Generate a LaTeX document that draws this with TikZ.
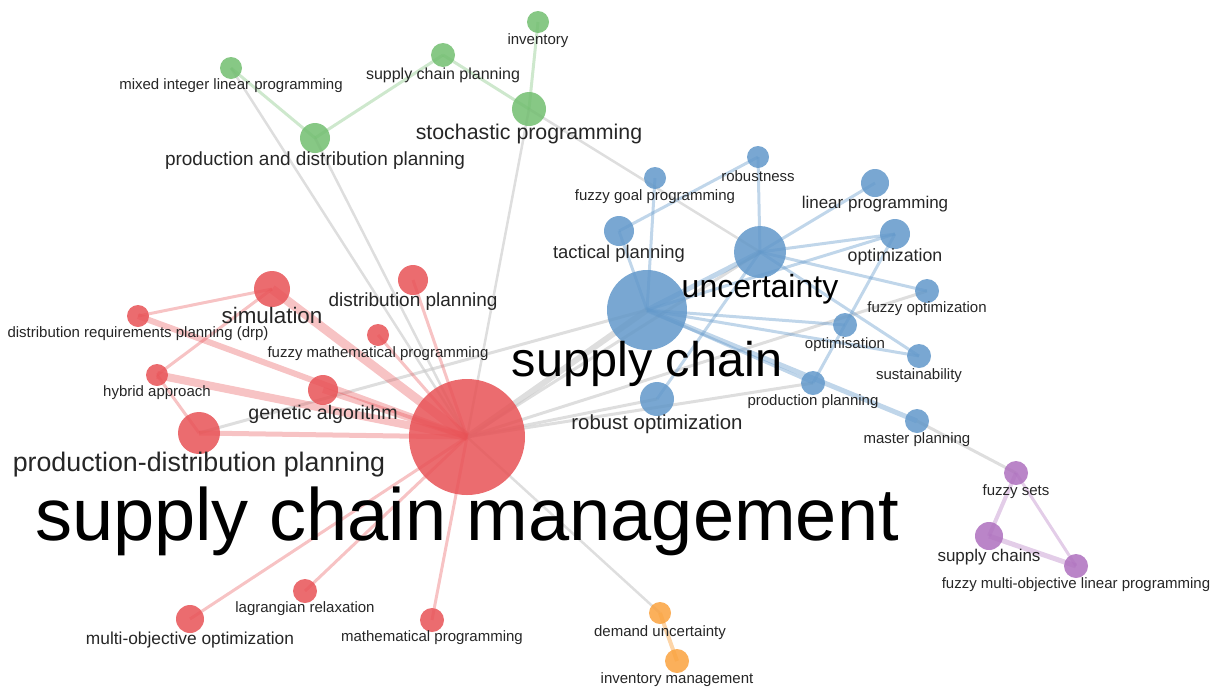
\documentclass[tikz,border=0pt]{standalone}
\usepackage{fontspec}
\setmainfont{Liberation Sans}
\usepackage{tikz}
\usetikzlibrary{backgrounds}
\definecolor{vred}{RGB}{232,82,86}
\definecolor{vblue}{RGB}{98,152,202}
\definecolor{vgreen}{RGB}{114,190,112}
\definecolor{vpurple}{RGB}{174,112,190}
\definecolor{vorange}{RGB}{250,162,62}
\definecolor{vgrey}{RGB}{200,200,200}
\tikzset{
  kw/.style={circle, inner sep=0pt, fill opacity=.85, draw=none},
  red kw/.style={kw, fill=vred, minimum size=#1*1.5pt},
  blue kw/.style={kw, fill=vblue, minimum size=#1*1.5pt},
  green kw/.style={kw, fill=vgreen, minimum size=#1*1.5pt},
  purple kw/.style={kw, fill=vpurple, minimum size=#1*1.5pt},
  orange kw/.style={kw, fill=vorange, minimum size=#1*1.5pt},
  lab/.style={text=black!85, inner sep=0pt, font=\fontsize{#1}{#1}\selectfont},
  big/.style={text=black, inner sep=0pt, font=\fontsize{#1}{#1}\selectfont},
  redge/.style={-, draw=vred, draw opacity=.35, line width=#1*0.75pt},
  bedge/.style={-, draw=vblue, draw opacity=.4, line width=#1*0.75pt},
  gedge/.style={-, draw=vgreen, draw opacity=.35, line width=#1*0.75pt},
  pedge/.style={-, draw=vpurple, draw opacity=.35, line width=#1*0.75pt},
  oedge/.style={-, draw=vorange, draw opacity=.45, line width=#1*0.75pt},
  xedge/.style={-, draw=vgrey, draw opacity=.6, line width=#1*0.75pt},
}
\begin{document}
\begin{tikzpicture}[x=0.75pt, y=-0.75pt]
            \useasboundingbox (0,0) rectangle (1218,686);
            % green cluster
            \node[green kw=11](inv)  at (538,22)  {};
            \node[green kw=11](milp) at (231,68)  {};
            \node[green kw=12](scp)  at (443,55)  {};
            \node[green kw=17](sp)   at (529,109) {};
            \node[green kw=15](pdp)  at (315,138) {};
            % blue cluster
            \node[blue kw=11](fgp)  at (655,178) {};
            \node[blue kw=11](rob)  at (758,157) {};
            \node[blue kw=14](lp)   at (875,183) {};
            \node[blue kw=15](tp)   at (619,231) {};
            \node[blue kw=26](unc)  at (760,252) {};
            \node[blue kw=15](opt)  at (895,234) {};
            \node[blue kw=40](sc)   at (647,310) {};
            \node[blue kw=12](fo)   at (927,291) {};
            \node[blue kw=12](ops)  at (845,325) {};
            \node[blue kw=12](sus)  at (919,356) {};
            \node[blue kw=12](pp)   at (813,383) {};
            \node[blue kw=17](ro)   at (657,399) {};
            \node[blue kw=12](mp)   at (917,421) {};
            % red cluster
            \node[red kw=18](sim)    at (272,289) {};
            \node[red kw=15](dp)     at (413,280) {};
            \node[red kw=11](drp)    at (138,316) {};
            \node[red kw=11](fmp)    at (378,335) {};
            \node[red kw=11](ha)     at (157,375) {};
            \node[red kw=15](ga)     at (323,390) {};
            \node[red kw=21](pdplan) at (199,433) {};
            \node[red kw=58](scm)    at (467,437) {};
            \node[red kw=12](lr)     at (305,591) {};
            \node[red kw=14](moo)    at (190,619) {};
            \node[red kw=12](mathp)  at (432,620) {};
            % orange and purple
            \node[orange kw=11](du) at (660,613) {};
            \node[orange kw=12](im) at (677,661) {};
            \node[purple kw=12](fs)    at (1016,473) {};
            \node[purple kw=14](scs)   at (989,536)  {};
            \node[purple kw=12](fmolp) at (1076,566) {};
            \begin{scope}[on background layer]
            \path
                (scm.center) edge [xedge=2.5] (milp.center)
                             edge [xedge=2.5] (pdp.center)
                             edge [xedge=2.5] (sp.center)
                             edge [xedge=6]   (sc.center)
                             edge [xedge=3]   (unc.center)
                             edge [xedge=3]   (ro.center)
                             edge [xedge=3]   (pp.center)
                             edge [xedge=3]   (fo.center)
                             edge [xedge=2.5] (du.center)
                (sp.center)  edge [xedge=2.5] (unc.center)
                (pdplan.center) edge [xedge=3] (sc.center)
                (mp.center)  edge [xedge=3]   (fs.center)
                ;
            \path
                (milp.center) edge [gedge=3] (pdp.center)
                (pdp.center)  edge [gedge=3] (scp.center)
                (scp.center)  edge [gedge=3] (sp.center)
                (sp.center)   edge [gedge=3] (inv.center)
                ;
            \path
                (scm.center) edge [redge=9] (sim.center)
                             edge [redge=3] (dp.center)
                             edge [redge=3] (fmp.center)
                             edge [redge=6] (drp.center)
                             edge [redge=8] (ha.center)
                             edge [redge=6] (ga.center)
                             edge [redge=5] (pdplan.center)
                             edge [redge=3] (lr.center)
                             edge [redge=3] (moo.center)
                             edge [redge=3] (mathp.center)
                (sim.center) edge [redge=3] (drp.center)
                             edge [redge=3] (ha.center)
                (ha.center)  edge [redge=3] (pdplan.center)
                ;
            \path
                (sc.center)  edge [bedge=5] (unc.center)
                             edge [bedge=3] (tp.center)
                             edge [bedge=3] (fgp.center)
                             edge [bedge=3] (opt.center)
                             edge [bedge=3] (ops.center)
                             edge [bedge=3] (sus.center)
                             edge [bedge=3] (pp.center)
                             edge [bedge=5] (mp.center)
                (unc.center) edge [bedge=3] (rob.center)
                             edge [bedge=3] (lp.center)
                             edge [bedge=3] (opt.center)
                             edge [bedge=3] (fo.center)
                             edge [bedge=3] (sus.center)
                             edge [bedge=3] (ro.center)
                (tp.center)  edge [bedge=3] (rob.center)
                (pp.center)  edge [bedge=3] (opt.center)
                ;
            \path
                (fs.center)  edge [pedge=4] (scs.center)
                             edge [pedge=3] (fmolp.center)
                (scs.center) edge [pedge=5] (fmolp.center)
                (du.center)  edge [oedge=4] (im.center)
                ;
            \end{scope}
            % labels
            \node[lab=11.25](inv-l)   at (538,41)  {inventory};
            \node[lab=11.25](milp-l)  at (231,86)  {mixed integer linear programming};
            \node[lab=12](scp-l)      at (443,75)  {supply chain planning};
            \node[lab=16](sp-l)       at (529,134) {stochastic programming};
            \node[lab=14.25](pdp-l)   at (315,161) {production and distribution planning};
            \node[lab=11.25](fgp-l)   at (655,197) {fuzzy goal programming};
            \node[lab=11.25](rob-l)   at (758,176) {robustness};
            \node[lab=12.75](lp-l)    at (875,204) {linear programming};
            \node[lab=13.8](tp-l)     at (619,254) {tactical planning};
            \node[big=24](unc-l)      at (760,289) {uncertainty};
            \node[lab=13.3](opt-l)    at (895,257) {optimization};
            \node[big=36.5](sc-l)     at (647,364) {supply chain};
            \node[lab=11.25](fo-l)    at (927,309) {fuzzy optimization};
            \node[lab=11.25](ops-l)   at (845,345) {optimisation};
            \node[lab=11.25](sus-l)   at (919,376) {sustainability};
            \node[lab=11.25](pp-l)    at (813,402) {production planning};
            \node[lab=15.3](ro-l)     at (657,424) {robust optimization};
            \node[lab=11.25](mp-l)    at (917,440) {master planning};
            \node[lab=16.8](sim-l)    at (272,315) {simulation};
            \node[lab=14.25](dp-l)    at (413,302) {distribution planning};
            \node[lab=11.25](drp-l)   at (138,334) {distribution requirements planning (drp)};
            \node[lab=11.25](fmp-l)   at (378,354) {fuzzy mathematical programming};
            \node[lab=11.25](ha-l)    at (157,393) {hybrid approach};
            \node[lab=14.7](ga-l)     at (323,414) {genetic algorithm};
            \node[lab=20.1](pdplan-l) at (199,465) {production-distribution planning};
            \node[big=55.5, anchor=base](scm-l) at (467,540) {supply chain management};
            \node[lab=11.25](lr-l)    at (305,609) {lagrangian relaxation};
            \node[lab=13](moo-l)      at (190,640) {multi-objective optimization};
            \node[lab=11.25](mathp-l) at (432,638) {mathematical programming};
            \node[lab=11.25](du-l)    at (660,633) {demand uncertainty};
            \node[lab=11.25](im-l)    at (677,680) {inventory management};
            \node[lab=11.25](fs-l)    at (1016,492) {fuzzy sets};
            \node[lab=12.75](scs-l)   at (989,557) {supply chains};
            \node[lab=11.25](fmolp-l) at (1076,585) {fuzzy multi-objective linear programming};
\end{tikzpicture}
\end{document}
